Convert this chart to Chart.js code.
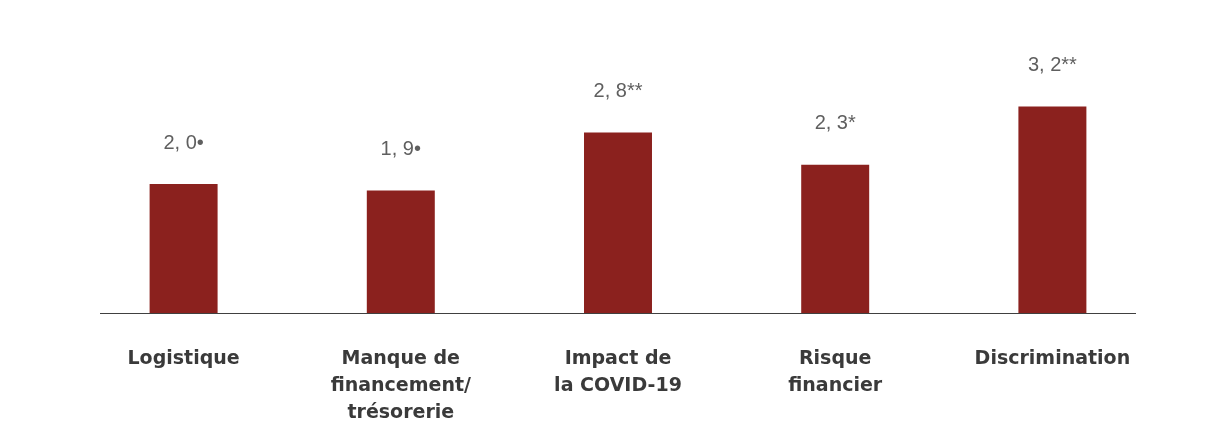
<!DOCTYPE html>
<html>
<head>
<meta charset="utf-8">
<script src="https://cdn.jsdelivr.net/npm/chart.js@4"></script>
<style>
html,body{margin:0;padding:0;background:#fff}
#wrap{width:1212px;height:436px}
</style>
</head>
<body>
<div id="wrap"><canvas id="chart"></canvas></div>
<script>
const categories = [
  ["Logistique"],
  ["Manque de", "financement/", "trésorerie"],
  ["Impact de", "la COVID-19"],
  ["Risque", "financier"],
  ["Discrimination"]
]
const values = [2.0, 1.9, 2.8, 2.3, 3.2]
const valueLabels = ["2, 0•", "1, 9•", "2, 8**", "2, 3*", "3, 2**"]

// axis line under the bars, a bit shorter than the category band
const baseLine = {
  id: "baseLine",
  afterDatasetsDraw(chart){
    const ctx = chart.ctx
    const area = chart.chartArea
    const y = chart.scales.y.getPixelForValue(0)
    ctx.save()
    ctx.strokeStyle = "#404040"
    ctx.lineWidth = 1
    ctx.beginPath()
    ctx.moveTo(area.left + 25, y + 0.5)
    ctx.lineTo(area.right - 25, y + 0.5)
    ctx.stroke()
    ctx.restore()
  }
}

// value text above each bar
const valueText = {
  id: "valueText",
  afterDatasetsDraw(chart){
    const ctx = chart.ctx
    const meta = chart.getDatasetMeta(0)
    ctx.save()
    ctx.font = "20px 'Liberation Sans', Arial, sans-serif"
    ctx.fillStyle = "#5f5f5f"
    ctx.textAlign = "center"
    ctx.textBaseline = "middle"
    meta.data.forEach((bar, i) => {
      ctx.fillText(valueLabels[i], bar.x, bar.y - 41)
    })
    ctx.restore()
  }
}

new Chart(document.getElementById("chart"), {
  type: "bar",
  data: {
    labels: categories,
    datasets: [{
      data: values,
      backgroundColor: "#8b211e",
      barPercentage: 1,
      categoryPercentage: 0.313
    }]
  },
  options: {
    responsive: true,
    maintainAspectRatio: false,
    animation: false,
    layout: { padding: { left: 75, right: 51, top: 55, bottom: 0 } },
    plugins: { legend: { display: false }, tooltip: { enabled: false } },
    scales: {
      x: {
        afterFit(scale){ scale.height = 123 },
        grid: { display: false, drawTicks: false },
        border: { display: false },
        ticks: {
          padding: 33,
          maxRotation: 0,
          autoSkip: false,
          color: "#3a3a3a",
          font: { family: "'DejaVu Sans', sans-serif", size: 19, weight: "bold", lineHeight: 1.42 }
        }
      },
      y: {
        display: false,
        min: 0,
        max: 4
      }
    }
  },
  plugins: [baseLine, valueText]
})
</script>
</body>
</html>
